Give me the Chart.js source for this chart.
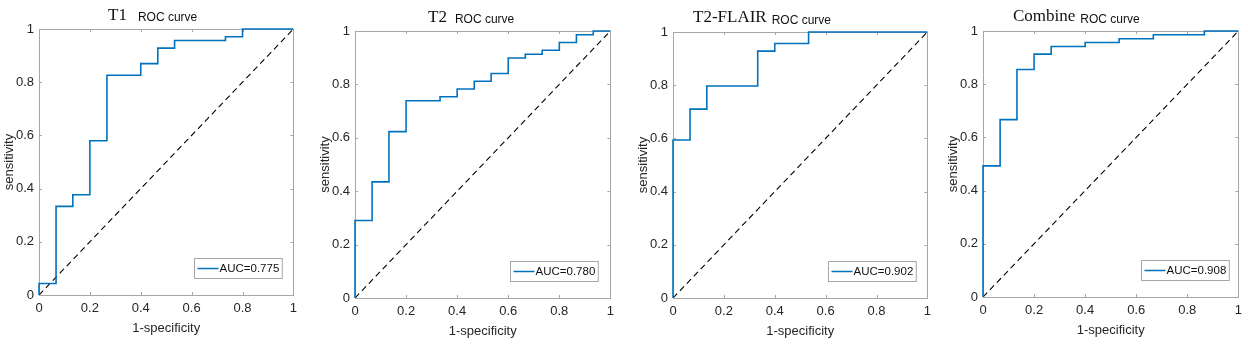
<!DOCTYPE html>
<html>
<head>
<meta charset="utf-8">
<script src="https://cdn.jsdelivr.net/npm/chart.js@4.4.1/dist/chart.umd.min.js"></script>
<style>
    body { margin:0; background:#ffffff; width:1248px; height:348px; position:relative; overflow:hidden; }
    canvas { position:absolute; top:0; }
</style>
</head>
<body>
<canvas id="rocT1" width="302" height="348" style="left:1px"></canvas>
<canvas id="rocT2" width="303" height="348" style="left:317px"></canvas>
<canvas id="rocFlair" width="302" height="348" style="left:635px"></canvas>
<canvas id="rocCombine" width="303" height="348" style="left:945px"></canvas>
<script>
// valores (1-especificidad / sensibilidad)
const fprT1 = [0, 0, 0.067, 0.133, 0.2, 0.267, 0.4, 0.467, 0.533, 0.733, 0.8, 1];
const tprT1 = [0, 0.043, 0.333, 0.377, 0.580, 0.826, 0.870, 0.928, 0.957, 0.971, 1, 1];

const fprT2 = [0, 0, 0.067, 0.133, 0.2, 0.333, 0.4, 0.467, 0.533, 0.6, 0.667, 0.733, 0.8, 0.867, 0.933, 1];
const tprT2 = [0, 0.290, 0.435, 0.623, 0.739, 0.754, 0.783, 0.812, 0.841, 0.899, 0.913, 0.928, 0.957, 0.986, 1, 1];

const fprFlair = [0, 0, 0.067, 0.133, 0.333, 0.4, 0.533, 1];
const tprFlair = [0, 0.594, 0.710, 0.797, 0.928, 0.957, 1, 1];

const fprCombine = [0, 0, 0.067, 0.133, 0.2, 0.267, 0.4, 0.533, 0.667, 0.867, 1];
const tprCombine = [0, 0.493, 0.667, 0.855, 0.913, 0.942, 0.957, 0.971, 0.986, 1, 1];

const aucLabels = ['AUC=0.775', 'AUC=0.780', 'AUC=0.902', 'AUC=0.908'];
const tituloPrefijos = ['T1', 'T2', 'T2-FLAIR', 'Combine'];
const ejeTicks = [0, 0.2, 0.4, 0.6, 0.8, 1];

const fuenteSans = '"Liberation Sans", Arial, sans-serif';
Chart.defaults.font.family = fuenteSans;
Chart.defaults.color = '#262626';

const azul = '#0072BD';
const gris = '#a6a6a6';

// caja, marcas interiores, titulo y leyenda al estilo matlab
const estiloMatlab = {
    id: 'estiloMatlab',
    beforeDatasetsDraw(chart){
        const ctx = chart.ctx;
        const a = chart.chartArea;
        const xs = chart.scales.x, ys = chart.scales.y;
        ctx.save();
        ctx.strokeStyle = gris;
        ctx.lineWidth = 1;
        ctx.strokeRect(Math.round(a.left) + 0.5, Math.round(a.top) + 0.5, Math.round(a.right - a.left), Math.round(a.bottom - a.top));
        ctx.beginPath();
        ejeTicks.forEach(function(v){
            const px = Math.round(xs.getPixelForValue(v)) + 0.5;
            ctx.moveTo(px, a.bottom); ctx.lineTo(px, a.bottom - 3);
            ctx.moveTo(px, a.top); ctx.lineTo(px, a.top + 3);
            const py = Math.round(ys.getPixelForValue(v)) + 0.5;
            ctx.moveTo(a.left, py); ctx.lineTo(a.left + 3, py);
            ctx.moveTo(a.right, py); ctx.lineTo(a.right - 3, py);
        });
        ctx.stroke();
        ctx.restore();
    },
    afterDraw(chart, args, opts){
        const ctx = chart.ctx;
        const a = chart.chartArea;
        ctx.save();
        // titulo
        ctx.textBaseline = 'alphabetic';
        ctx.fillStyle = '#111111';
        ctx.font = '17px "Liberation Serif", "Times New Roman", serif';
        const tx = a.left + opts.tituloX;
        ctx.fillText(opts.prefijo, tx, opts.tituloY);
        const w = ctx.measureText(opts.prefijo).width;
        ctx.font = '12px ' + fuenteSans;
        ctx.fillText('ROC curve', tx + w + opts.tituloGap, opts.tituloY + opts.bajada);
        // leyenda
        const label = chart.data.datasets[0].label;
        ctx.font = '11.5px ' + fuenteSans;
        const tw = ctx.measureText(label).width;
        const bw = tw + 28, bh = 20;
        const bx = Math.round(a.right - opts.legDer - bw) + 0.5;
        const by = Math.round(a.bottom - 17 - bh) + 0.5;
        ctx.fillStyle = '#ffffff';
        ctx.fillRect(bx, by, bw, bh);
        ctx.strokeStyle = gris;
        ctx.lineWidth = 1;
        ctx.strokeRect(bx, by, bw, bh);
        ctx.strokeStyle = azul;
        ctx.lineWidth = 1.5;
        ctx.beginPath();
        ctx.moveTo(bx + 3, by + bh / 2);
        ctx.lineTo(bx + 24, by + bh / 2);
        ctx.stroke();
        ctx.fillStyle = '#111111';
        ctx.textBaseline = 'middle';
        ctx.fillText(label, bx + 25, by + bh / 2 + 0.5);
        ctx.restore();
    }
};

function crearRoc(id, fpr, tpr, idx, pad, tit){
    const puntos = fpr.map(function(x, i){ return { x: x, y: tpr[i] }; });
    new Chart(document.getElementById(id), {
        type: 'line',
        plugins: [estiloMatlab],
        data: {
            datasets: [
                {
                    label: aucLabels[idx],
                    data: puntos,
                    stepped: true,
                    borderColor: azul,
                    borderWidth: 1.6,
                    pointRadius: 0,
                    fill: false,
                    clip: 2
                },
                {
                    label: 'azar',
                    data: [{ x: 0, y: 0 }, { x: 1, y: 1 }],
                    borderColor: '#000000',
                    borderWidth: 1.1,
                    borderDash: [6, 4],
                    pointRadius: 0,
                    fill: false
                }
            ]
        },
        options: {
            responsive: false,
            animation: false,
            layout: { padding: pad },
            plugins: {
                legend: { display: false },
                tooltip: { enabled: false },
                estiloMatlab: {
                    prefijo: tituloPrefijos[idx],
                    tituloX: tit[0],
                    tituloY: tit[1],
                    tituloGap: tit[2],
                    bajada: tit[3],
                    legDer: tit[4]
                }
            },
            scales: {
                x: {
                    type: 'linear',
                    min: 0, max: 1,
                    afterFit: function(s){ s.height = 44; },
                    afterBuildTicks: function(s){ s.ticks = ejeTicks.map(function(v){ return { value: v }; }); },
                    grid: { display: false, drawTicks: false },
                    border: { display: false },
                    ticks: { padding: 6, font: { size: 13 }, callback: function(v){ return String(Number(v.toFixed(1))); } },
                    title: { display: true, text: '1-specificity', font: { size: 13 }, padding: { top: 2, bottom: 3 } }
                },
                y: {
                    type: 'linear',
                    min: 0, max: 1,
                    afterFit: function(s){ s.width = 38; },
                    afterBuildTicks: function(s){ s.ticks = ejeTicks.map(function(v){ return { value: v }; }); },
                    grid: { display: false, drawTicks: false },
                    border: { display: false },
                    ticks: { padding: 5, font: { size: 13 }, callback: function(v){ return String(Number(v.toFixed(1))); } },
                    title: { display: true, text: 'sensitivity', font: { size: 13 }, padding: { top: 1, bottom: 2 } }
                }
            }
        }
    });
}

crearRoc('rocT1', fprT1, tprT1, 0, { top: 29, left: 0, right: 8, bottom: 9 }, [69, 20, 11, 1, 12]);
crearRoc('rocT2', fprT2, tprT2, 1, { top: 31, left: 0, right: 8, bottom: 6 }, [73, 22, 8, 1, 13]);
crearRoc('rocFlair', fprFlair, tprFlair, 2, { top: 32, left: 0, right: 8, bottom: 6 }, [20, 22, 5, 2, 12]);
crearRoc('rocCombine', fprCombine, tprCombine, 3, { top: 31, left: 0, right: 8, bottom: 7 }, [30, 21, 5, 2, 10]);
</script>
</body>
</html>
